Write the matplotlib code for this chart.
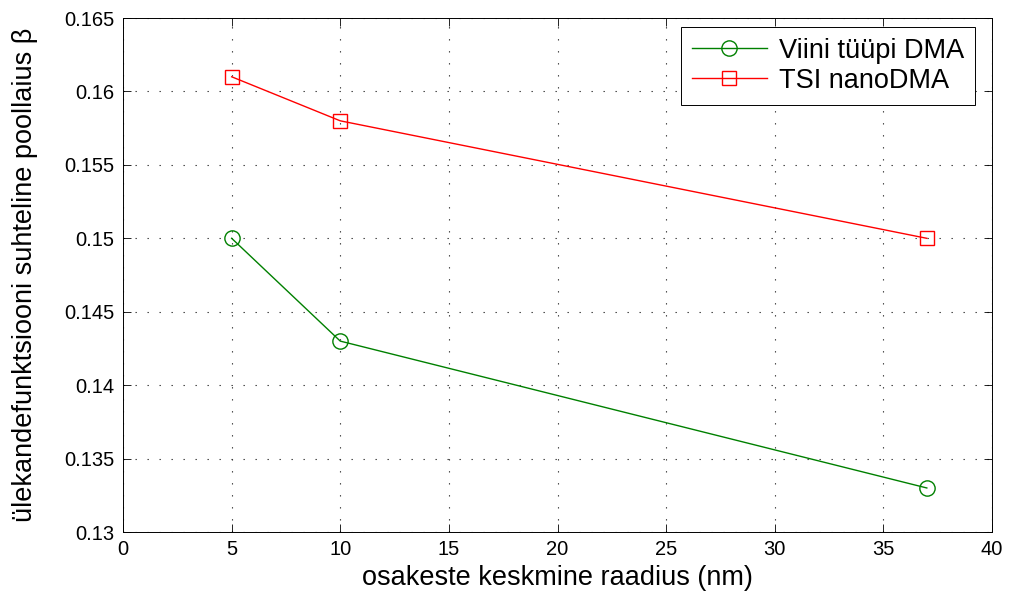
import numpy as np
from matplotlib import pyplot as plt

plt.rcParams['font.family'] = ['Liberation Sans', 'DejaVu Sans']
plt.rcParams['font.size'] = 14.5
for axticks in ['xtick', 'ytick']:
    plt.rcParams['{:}.direction'.format(axticks)] = 'in'

# keskmine raadius (nm) ja poollaius beta
radius = [5, 10, 37]
beta_viini = [0.150, 0.143, 0.133]
beta_tsi = [0.161, 0.158, 0.150]

fig = plt.figure(figsize=(10.11, 6.03), dpi=100)
ax = fig.add_axes([0.1217, 0.1177, 0.8595, 0.8524])

ax.plot(radius, beta_viini, '-o', color='#008000', mfc='none', ms=11,
        mew=1.0, lw=1.0, label='Viini tüüpi DMA')
ax.plot(radius, beta_tsi, '-s', color='#ff0000', mfc='none', ms=9.5,
        mew=1.0, lw=1.0, label='TSI nanoDMA')

ax.set_xlim(0, 40)
ax.set_ylim(0.13, 0.165)
ax.set_xticks(np.arange(0, 41, 5))
ax.set_yticks(np.arange(0.13, 0.1651, 0.005))
ax.set_yticklabels(['0.13', '0.135', '0.14', '0.145', '0.15', '0.155',
                    '0.16', '0.165'])
ax.tick_params(top=True, right=True, length=6, width=0.6, pad=6)
ax.grid(True, linestyle=(0, (1.2, 9.6)), color='#333333', lw=0.8)
for s in ax.spines.values():
    s.set_linewidth(0.7)

ax.set_xlabel('osakeste keskmine raadius (nm)', fontsize=19.5, labelpad=4)
ax.set_ylabel('ülekandefunktsiooni suhteline poollaius β', fontsize=19.5,
              labelpad=19)

leg = ax.legend(loc='upper right', bbox_to_anchor=(0.9804, 0.9825),
                fancybox=False, edgecolor='black',
                framealpha=1, borderaxespad=0, handlelength=2.75,
                fontsize=19.5, borderpad=0.4, labelspacing=0.15,
                handletextpad=0.45)
leg.get_frame().set_linewidth(0.7)

fig.savefig('out.png', dpi=100)
